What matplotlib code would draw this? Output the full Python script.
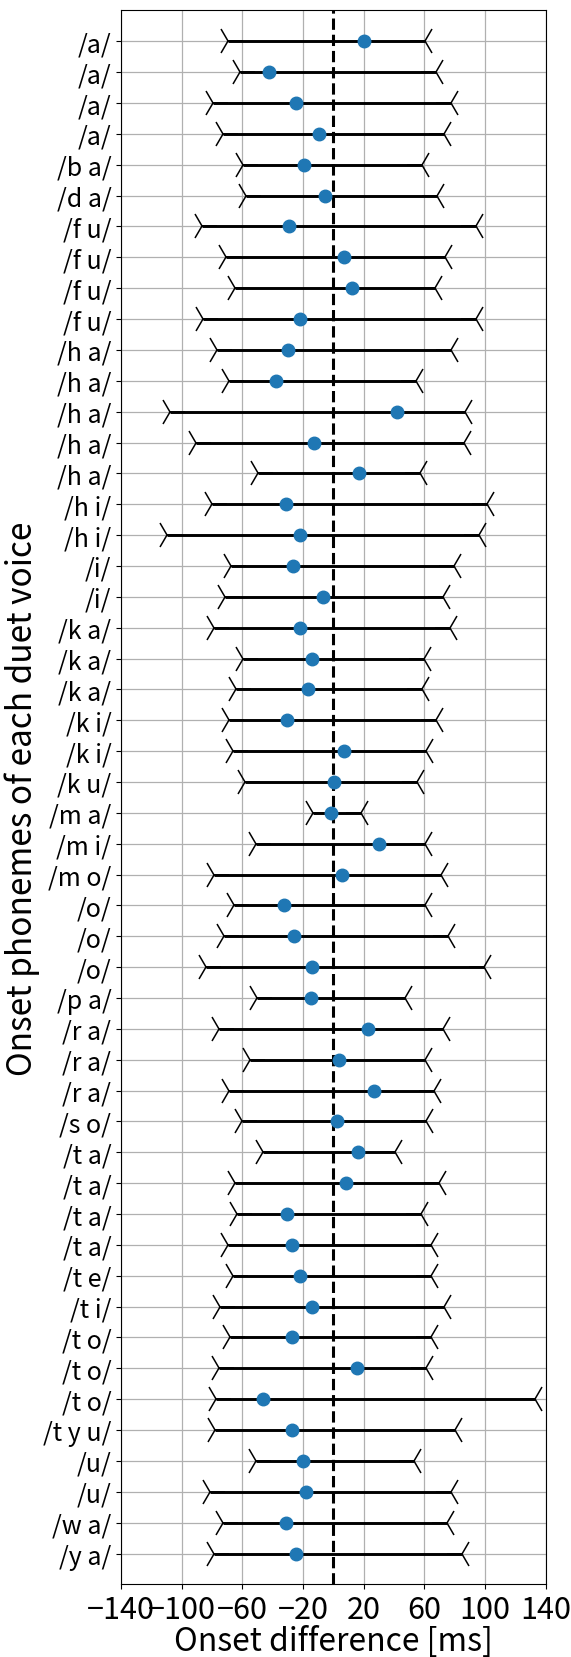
import numpy as np
import matplotlib
matplotlib.use("Agg")
import matplotlib.pyplot as plt

plt.rcParams['font.family'] = ['Noto Sans CJK JP', 'DejaVu Sans']

# onset phoneme of each duet voice, top to bottom
labels = ["/a/", "/a/", "/a/", "/a/", "/b a/", "/d a/",
          "/f u/", "/f u/", "/f u/", "/f u/",
          "/h a/", "/h a/", "/h a/", "/h a/", "/h a/",
          "/h i/", "/h i/", "/i/", "/i/",
          "/k a/", "/k a/", "/k a/", "/k i/", "/k i/", "/k u/",
          "/m a/", "/m i/", "/m o/", "/o/", "/o/", "/o/", "/p a/",
          "/r a/", "/r a/", "/r a/", "/s o/",
          "/t a/", "/t a/", "/t a/", "/t a/", "/t e/", "/t i/",
          "/t o/", "/t o/", "/t o/", "/t y u/", "/u/", "/u/", "/w a/", "/y a/"]

# mean onset difference [ms]
mean = [20.0, -42.8, -24.8, -9.7, -19.5, -5.5,
        -29.0, 6.8, 12.3, -21.9,
        -29.8, -38.2, 41.9, -12.9, 17.1,
        -31.4, -21.9, -26.8, -7.0,
        -22.2, -14.3, -16.5, -30.5, 7.0, 0.4,
        -1.8, 30.1, 5.3, -32.7, -25.9, -14.3, -14.7,
        22.8, 3.5, 27.0, 2.4,
        16.2, 8.3, -30.9, -27.2, -21.9, -14.0,
        -27.6, 15.6, -46.7, -27.0, -20.0, -17.8, -31.1, -24.6]

# lower / upper end of the range [ms]
lower = [-69.3, -61.7, -79.2, -73.1, -59.5, -57.9,
         -86.9, -70.9, -64.7, -85.8,
         -77.0, -68.7, -107.7, -90.6, -49.6,
         -80.3, -109.9, -67.6, -71.5,
         -78.8, -59.9, -64.3, -68.7, -66.5, -58.4,
         -13.8, -51.1, -78.8, -65.4, -72.2, -84.0, -50.7,
         -75.3, -55.1, -68.7, -60.6,
         -46.3, -65.0, -63.9, -69.8, -66.5, -74.8,
         -68.2, -75.3, -77.5, -78.1, -51.1, -81.4, -73.0, -78.5]
upper = [60.6, 67.8, 77.2, 72.9, 58.6, 68.5,
         94.1, 73.3, 66.7, 94.1,
         77.2, 54.6, 86.9, 85.8, 57.3,
         101.2, 95.9, 79.4, 72.2,
         76.6, 59.5, 58.4, 67.8, 60.8, 55.1,
         18.4, 60.1, 71.1, 60.1, 75.5, 99.2, 47.0,
         72.2, 60.1, 66.3, 60.8,
         40.4, 69.6, 57.9, 64.5, 64.5, 72.9,
         64.1, 61.2, 133.0, 80.3, 53.1, 77.7, 74.9, 84.9]

y = np.arange(len(labels))

fig, ax = plt.subplots(figsize=(5.71, 16.58), dpi=100)
fig.subplots_adjust(left=0.212, right=0.956, top=0.9931, bottom=0.0438)

ax.set_axisbelow(True)
ax.grid(True, color='#b0b0b0', lw=0.9)

ax.hlines(y, lower, upper, color='k', lw=2.1, zorder=2)
ax.plot(lower, y, '4', color='k', ms=21, mew=1.1, ls='none', zorder=2)
ax.plot(upper, y, '3', color='k', ms=21, mew=1.1, ls='none', zorder=2)
ax.axvline(0, color='k', ls='--', lw=2.2, zorder=3)
ax.plot(mean, y, 'o', color='#1f77b4', ms=9, ls='none', zorder=4)

ax.set_xlim(-140, 140)
ax.set_xticks(np.arange(-140, 141, 40))
ax.set_ylim(len(labels), -1)
ax.set_yticks(y)
ax.set_yticklabels(labels, fontsize=18)
ax.tick_params(axis='x', labelsize=22)
ax.set_xlabel("Onset difference [ms]", fontsize=23, labelpad=0)
ax.set_ylabel("Onset phonemes of each duet voice", fontsize=24, labelpad=2)

fig.savefig("out.png", dpi=100)
